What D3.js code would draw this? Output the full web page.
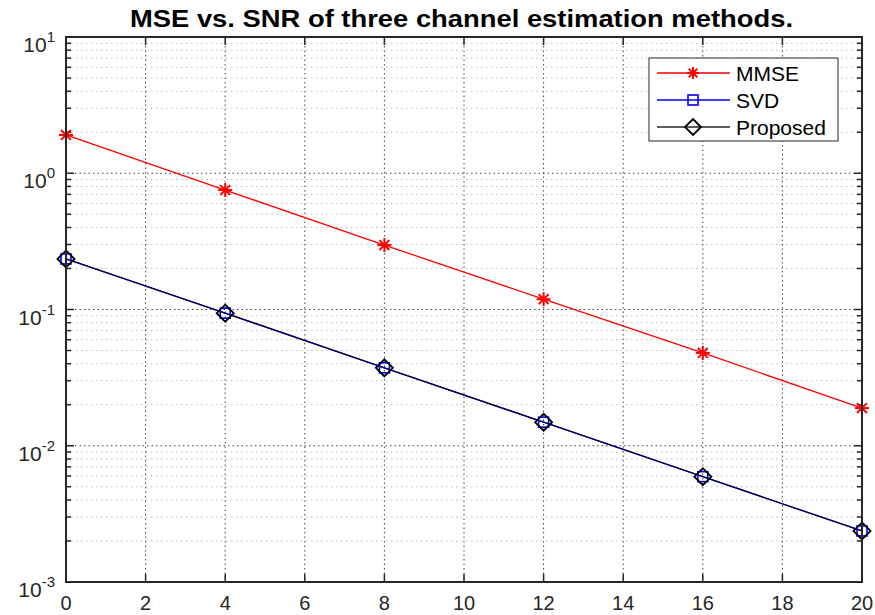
<!DOCTYPE html>
<html><head><meta charset="utf-8">
<script src="https://cdn.jsdelivr.net/npm/d3@7"></script>
<style>body{margin:0;background:#fff}svg{display:block}</style>
</head><body>
<script>
const snr = [0, 4, 8, 12, 16, 20];
const mmse = [1.91, 0.753, 0.297, 0.119, 0.048, 0.0189];
const svd = [0.235, 0.094, 0.0373, 0.0149, 0.00593, 0.00237];
const proposed = [0.235, 0.094, 0.0373, 0.0149, 0.00593, 0.00237];
const xTicks = [0, 2, 4, 6, 8, 10, 12, 14, 16, 18, 20];
const yDecades = [-3, -2, -1, 0, 1];
const seriesNames = ["MMSE", "SVD", "Proposed"];
const title = "MSE vs. SNR of three channel estimation methods.";

const W = 875, H = 615;
const L = 66, R = 862, T = 37, B = 582;
const svg = d3.select("body").append("svg").attr("width", W).attr("height", H);
const x = d3.scaleLinear().domain([0, 20]).range([L, R]);
const y = d3.scaleLog().domain([1e-3, 10]).range([B, T]);
const font = "Liberation Sans, Arial, sans-serif";

// minor grid
const minors = [];
yDecades.slice(0, -1).forEach(d => { for (let k = 2; k <= 9; k++) minors.push(k * Math.pow(10, d)); });
svg.append("g").selectAll("line").data(minors).join("line")
  .attr("x1", L).attr("x2", R).attr("y1", d => y(d)).attr("y2", d => y(d))
  .attr("stroke", "#bdbdbd").attr("stroke-width", 1).attr("stroke-dasharray", "1.5,3.5");
// major grid
svg.append("g").selectAll("line").data(yDecades.slice(1, -1)).join("line")
  .attr("x1", L).attr("x2", R).attr("y1", d => y(Math.pow(10, d))).attr("y2", d => y(Math.pow(10, d)))
  .attr("stroke", "#444").attr("stroke-width", 1).attr("stroke-dasharray", "1.5,3");
svg.append("g").selectAll("line").data(xTicks.slice(1, -1)).join("line")
  .attr("x1", d => x(d)).attr("x2", d => x(d)).attr("y1", T).attr("y2", B)
  .attr("stroke", "#444").attr("stroke-width", 1).attr("stroke-dasharray", "1.5,3");

// ticks inside
const tk = svg.append("g").attr("stroke", "#262626").attr("stroke-width", 1.5);
xTicks.forEach(t => {
  tk.append("line").attr("x1", x(t)).attr("x2", x(t)).attr("y1", B).attr("y2", B - 8);
  tk.append("line").attr("x1", x(t)).attr("x2", x(t)).attr("y1", T).attr("y2", T + 8);
});
yDecades.forEach(d => {
  const v = y(Math.pow(10, d));
  tk.append("line").attr("x1", L).attr("x2", L + 8).attr("y1", v).attr("y2", v);
  tk.append("line").attr("x1", R).attr("x2", R - 8).attr("y1", v).attr("y2", v);
});
minors.forEach(m => {
  const v = y(m);
  tk.append("line").attr("x1", L).attr("x2", L + 5).attr("y1", v).attr("y2", v);
  tk.append("line").attr("x1", R).attr("x2", R - 5).attr("y1", v).attr("y2", v);
});

// lines
const line = d3.line().x((d, i) => x(snr[i])).y(d => y(d));
const plot = svg.append("g");
plot.append("path").datum(mmse).attr("d", line).attr("fill", "none").attr("stroke", "#ff0000").attr("stroke-width", 1.3);
plot.append("path").datum(svd).attr("d", line).attr("fill", "none").attr("stroke", "#0000ff").attr("stroke-width", 1.3);
plot.append("path").datum(proposed).attr("d", line).attr("fill", "none").attr("stroke", "#000022").attr("stroke-width", 1.3).attr("opacity", 0.85);

function star(g, cx, cy, s, col) {
  [0, 45, 90, 135].forEach(deg => {
    const r = deg * Math.PI / 180;
    g.append("line").attr("x1", cx - s * Math.cos(r)).attr("y1", cy - s * Math.sin(r))
      .attr("x2", cx + s * Math.cos(r)).attr("y2", cy + s * Math.sin(r))
      .attr("stroke", col).attr("stroke-width", 2);
  });
}
function square(g, cx, cy, s, col) {
  g.append("rect").attr("x", cx - s).attr("y", cy - s).attr("width", 2 * s).attr("height", 2 * s)
    .attr("fill", "none").attr("stroke", col).attr("stroke-width", 1.6);
}
function diamond(g, cx, cy, s, col) {
  g.append("path").attr("d", `M${cx},${cy - s}L${cx + s},${cy}L${cx},${cy + s}L${cx - s},${cy}Z`)
    .attr("fill", "none").attr("stroke", col).attr("stroke-width", 1.8);
}
mmse.forEach((v, i) => star(plot, x(snr[i]), y(v), 7, "#ff0000"));
svd.forEach((v, i) => square(plot, x(snr[i]), y(v), 5, "#0000ff"));
proposed.forEach((v, i) => diamond(plot, x(snr[i]), y(v), 8.5, "#000000"));

// axes box
svg.append("rect").attr("x", L).attr("y", T).attr("width", R - L).attr("height", B - T)
  .attr("fill", "none").attr("stroke", "#262626").attr("stroke-width", 2);

// x labels
svg.append("g").selectAll("text").data(xTicks).join("text")
  .attr("x", d => x(d)).attr("y", 610).attr("text-anchor", "middle")
  .attr("font-family", font).attr("font-size", 20).attr("fill", "#262626").text(d => d);
// y labels
yDecades.forEach(d => {
  const t = svg.append("text").attr("x", 55).attr("y", y(Math.pow(10, d)) + 15).attr("text-anchor", "end")
    .attr("font-family", font).attr("font-size", 21).attr("fill", "#262626");
  t.append("tspan").text("10");
  t.append("tspan").attr("dy", -10).attr("font-size", 15).text(d);
});

// title
svg.append("text").attr("x", 130).attr("y", 27)
  .attr("textLength", 663).attr("lengthAdjust", "spacingAndGlyphs")
  .attr("font-family", font).attr("font-weight", "bold").attr("font-size", 23.5).attr("fill", "#000").text(title);

// legend
const lg = svg.append("g");
lg.append("rect").attr("x", 649).attr("y", 58).attr("width", 189).attr("height", 83)
  .attr("fill", "#fff").attr("stroke", "#262626").attr("stroke-width", 1);
const ly = [73, 100, 127];
const lcol = ["#ff0000", "#0000ff", "#262626"];
seriesNames.forEach((n, i) => {
  lg.append("line").attr("x1", 657).attr("x2", 730).attr("y1", ly[i]).attr("y2", ly[i]).attr("stroke", lcol[i]).attr("stroke-width", 1.3);
  if (i === 0) star(lg, 693, ly[i], 6, "#ff0000");
  if (i === 1) square(lg, 693, ly[i], 5, "#0000ff");
  if (i === 2) diamond(lg, 693, ly[i], 8, "#000000");
  lg.append("text").attr("x", 736).attr("y", ly[i] + 7.5).attr("font-family", font).attr("font-size", 21).attr("fill", "#000").text(n);
});
</script>
</body></html>
